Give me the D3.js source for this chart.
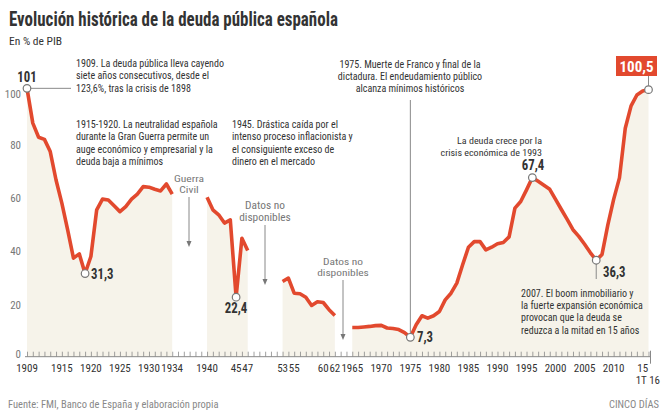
<!DOCTYPE html>
<html><head><meta charset="utf-8">
<script src="https://cdn.jsdelivr.net/npm/d3@7"></script>
<style>
html,body{margin:0;padding:0;background:#fff;}
svg{display:block;}
</style></head>
<body><svg id="c" width="664" height="416"></svg>
<script>
// ---- Data ----
const years = [1909,1910,1911,1912,1913,1914,1915,1916,1917,1918,1919,1920,1921,1922,1923,1924,1925,1926,1927,1928,1929,1930,1931,1932,1933,1934,
1935,1936,1937,1938,1939,
1940,1941,1942,1943,1944,1945,1946,1947,
1948,1949,1950,1951,1952,
1953,1954,1955,1956,1957,1958,1959,1960,1961,1962,
1963,1964,
1965,1966,1967,1968,1969,1970,1971,1972,1973,1974,1975,1976,1977,1978,1979,1980,1981,1982,1983,1984,
1985,1986,1987,1988,1989,1990,1991,1992,1993,1994,1995,1996,1997,1998,1999,2000,2001,2002,2003,2004,2005,2006,2007,
2008,2009,2010,2011,2012,2013,2014,2015,2016];
const debt = [101,87.9,82.6,81.8,77.2,66.5,57.8,47.7,37.1,38.7,31.3,37.7,55.3,59.3,59.0,56.8,54.6,56.5,59.3,61.2,64.0,63.8,63.0,62.4,65.0,61.2,
null,null,null,null,null,
60.0,55.3,53.4,50.3,51.5,22.4,44.6,40.0,
null,null,null,null,null,
28.3,29.6,23.9,23.7,22.4,19.3,20.7,20.4,17.7,15.5,
null,null,
11.0,11.0,11.2,11.4,11.7,11.8,10.8,10.6,10.2,9.1,7.3,12.0,15.4,14.5,15.4,17.0,21.4,23.9,27.7,34.6,
41.2,43.3,43.3,40.2,41.2,42.5,43.0,45.1,55.9,58.4,62.8,67.4,66.0,64.5,63.0,59.2,55.4,51.7,47.8,45.3,42.3,39.1,36.3,
38.5,49.6,59.2,67.3,86.0,94.4,98.5,100.0,100.5];
const yTicks = [0,20,40,60,80,100];
const xTickYears = [1909,1915,1920,1925,1930,1934,1940,1945,1947,1953,1955,1960,1962,1965,1970,1975,1980,1985,1990,1995,2000,2005,2010,2015];
const xTickLabels = ["1909","1915","1920","1925","1930","1934","1940","45","47","53","55","60","62","1965","1970","1975","1980","1985","1990","1995","2000","2005","2010","15"];
const lastLabel = "1T 16";
const markedYears = [1909,1919,1945,1975,1996,2007,2016];

const title = "Evolución histórica de la deuda pública española";
const subtitle = "En % de PIB";
const source = "Fuente: FMI, Banco de España y elaboración propia";
const brand = "CINCO DÍAS";

// ---- Setup ----
const FONT = "'Liberation Sans Narrow','Roboto Condensed','DejaVu Sans Condensed','Arial Narrow',sans-serif";
const svg = d3.select("#c").style("font-family", FONT);
const data = years.map((y,i)=>({year:y, v:debt[i]}));

const x = d3.scaleLinear().domain([1909, 2016]).range([27, 648.5]);
const y = d3.scaleLinear().domain([0, 100]).range([356.7, 91]);

const RED = "#e2492e", BEIGE = "#f6f3ea", DARK = "#333", GREY = "#777";

// horizontal squeeze helper (keeps glyph height, adjusts width like a condensed face)
function squeeze(sel, ax, f){
  sel.attr("transform",`translate(${ax},0) scale(${f},1) translate(${-ax},0)`);
  return sel;
}
function measure(txt, size, weight){
  const t = svg.append("text").attr("font-size",size).attr("font-weight",weight||"normal").text(txt);
  const w = t.node().getComputedTextLength(); t.remove(); return w;
}

// title
const tt = svg.append("text").attr("x",9).attr("y",26).attr("font-size",21).attr("font-weight","bold").attr("fill",DARK).text(title);
squeeze(tt, 9, 329/tt.node().getComputedTextLength());
svg.append("text").attr("x",9).attr("y",45).attr("font-size",11.5).attr("fill",DARK).text(subtitle);

// area
const area = d3.area().defined(d=>d.v!==null).x(d=>x(d.year)).y0(y(0)).y1(d=>y(d.v));
svg.append("path").datum(data).attr("d",area).attr("fill",BEIGE);

// x axis with yearly ticks pointing up
const axisG = svg.append("g").attr("transform",`translate(0,${y(0)})`);
const xAxis = d3.axisTop(x).tickValues(years).tickSize(5).tickFormat("");
axisG.call(xAxis);
axisG.select(".domain").remove();
axisG.selectAll(".tick line").attr("stroke","#888").attr("stroke-width",0.8);
axisG.append("line").attr("x1",x(1909)-2).attr("x2",x(2016)+2).attr("y1",0).attr("y2",0).attr("stroke","#888").attr("stroke-width",1);
axisG.append("line").attr("x1",x(2016)+2).attr("x2",x(2016)+2).attr("y1",-6).attr("y2",7).attr("stroke","#888").attr("stroke-width",1);

// x labels
const labG = svg.append("g").attr("font-size",11).attr("fill",DARK).attr("text-anchor","middle");
xTickYears.forEach((yr,i)=>{
  labG.append("text").attr("x",x(yr)).attr("y",371.5).text(xTickLabels[i]);
});
labG.append("text").attr("x",660).attr("y",384).attr("text-anchor","end").text(lastLabel);

// y axis labels
const yAxis = d3.axisLeft(y).tickValues(yTicks).tickSize(0);
const yG = svg.append("g").attr("transform","translate(21,1)").call(yAxis);
yG.select(".domain").remove();
yG.selectAll("text").attr("font-family",FONT).attr("font-size",11).attr("fill",GREY).attr("x",0);
yG.selectAll(".tick").filter(d=>d===0).select("text").attr("dy","-0.05em");
yG.selectAll(".tick").filter(d=>d===100).select("text").attr("dy","0.5em");

// line
const line = d3.line().defined(d=>d.v!==null).x(d=>x(d.year)).y(d=>y(d.v));
svg.append("path").datum(data).attr("d",line).attr("fill","none").attr("stroke",RED)
  .attr("stroke-width",3.6).attr("stroke-linejoin","round").attr("stroke-linecap","butt");

const val = yr => data.find(d=>d.year===yr).v;

// leader lines
const lead = svg.append("g").attr("stroke","#8a8a8a").attr("stroke-width",1);
lead.append("line").attr("x1",x(1909)).attr("x2",71).attr("y1",y(val(1909))).attr("y2",y(val(1909)));
lead.append("line").attr("x1",x(1975)).attr("x2",x(1975)).attr("y1",100).attr("y2",y(val(1975)));
lead.append("line").attr("x1",x(2007)).attr("x2",x(2007)).attr("y1",y(val(2007))).attr("y2",279);
lead.append("line").attr("x1",x(2016)).attr("x2",x(2016)).attr("y1",76).attr("y2",y(val(2016)));

// arrows with grey labels: [x, arrowTop, arrowBottom, line1, line2, baseline1, lineStep, fontSize, widestTarget]
const arrows = [[189,197,247,"Guerra","Civil",182.5,10.8,9.2,30],
                [265,225,285,"Datos no","disponibles",209,11.8,10.1,51.7],
                [343,280,340,"Datos no","disponibles",265,11.5,9.8,51.7]];
arrows.forEach(a=>{
  svg.append("line").attr("x1",a[0]).attr("x2",a[0]).attr("y1",a[1]).attr("y2",a[2]-3)
    .attr("stroke","#888").attr("stroke-width",1);
  svg.append("path").attr("d",`M${a[0]-2.5},${a[2]-6} L${a[0]+2.5},${a[2]-6} L${a[0]},${a[2]} Z`).attr("fill","#777");
  const wide = Math.max(measure(a[3],a[7]), measure(a[4],a[7]));
  const f = a[8]/wide;
  [a[3],a[4]].forEach((s,i)=>{
    const t = svg.append("text").attr("text-anchor","middle").attr("font-size",a[7]).attr("fill","#777")
      .attr("x",a[0]).attr("y",a[5]+i*a[6]).text(s);
    squeeze(t,a[0],f);
  });
});

// circles
svg.append("g").selectAll("circle").data(markedYears).join("circle")
  .attr("cx",d=>x(d)).attr("cy",d=>y(val(d))).attr("r",3.8)
  .attr("fill","#fff").attr("stroke","#777").attr("stroke-width",1.2);

// value labels
const bigF = 22.5/measure("67,4",15,"bold");
const big = (tx,ty,txt,anchor)=>{
  const t = svg.append("text").attr("x",tx).attr("y",ty).attr("text-anchor",anchor)
    .attr("font-size",15).attr("font-weight","bold").attr("fill",DARK).text(txt);
  squeeze(t,tx,bigF);
};
big(27,82,"101","middle");
big(91,279,"31,3","start");
big(236,313,"22,4","middle");
big(417,342,"7,3","start");
big(533,170,"67,4","middle");
big(603,277,"36,3","start");
svg.append("rect").attr("x",616).attr("y",56).attr("width",41).attr("height",20).attr("fill",RED);
const bt = svg.append("text").attr("x",636.5).attr("y",72).attr("text-anchor","middle").attr("font-size",15)
  .attr("font-weight","bold").attr("fill","#fff").text("100,5");
squeeze(bt,636.5,34/bt.node().getComputedTextLength());

// annotations
const NOTE = 10.2;
const noteF = 148/measure("1909. La deuda pública lleva cayendo",NOTE);
const note = (tx,ty,lines,anchor,lh,fs)=>{
  lines.forEach((l,i)=>{
    const t = svg.append("text").attr("font-size",fs||NOTE).attr("fill",DARK).attr("text-anchor",anchor)
      .attr("x",tx).attr("y",ty+i*lh).text(l);
    squeeze(t,tx,noteF*(NOTE/(fs||NOTE)));
  });
};
note(76,67,["1909. La deuda pública lleva cayendo","siete años consecutivos, desde el","123,6%, tras la crisis de 1898"],"start",12.5);
note(76,128,["1915-1920. La neutralidad española","durante la Gran Guerra permite un","auge económico y empresarial y la","deuda baja a mínimos"],"start",12.3);
note(232,128,["1945. Drástica caída por el","intenso proceso inflacionista y","el consiguiente exceso de","dinero en el mercado"],"start",12.3);
note(410,68,["1975. Muerte de Franco y final de la","dictadura. El endeudamiento público","alcanza mínimos históricos"],"middle",12.1);
note(542,144,["La deuda crece por la","crisis económica de 1993"],"end",11.8,9.9);
note(521,297,["2007. El boom inmobiliario y","la fuerte expansión económica","provocan que la deuda se","reduzca a la mitad en 15 años"],"start",12.2);

// footer
svg.append("text").attr("x",8).attr("y",408).attr("font-size",10.5).attr("fill","#888").text(source);
svg.append("text").attr("x",659).attr("y",408).attr("text-anchor","end").attr("font-size",10.5).attr("fill","#888").text(brand);
</script></body></html>
